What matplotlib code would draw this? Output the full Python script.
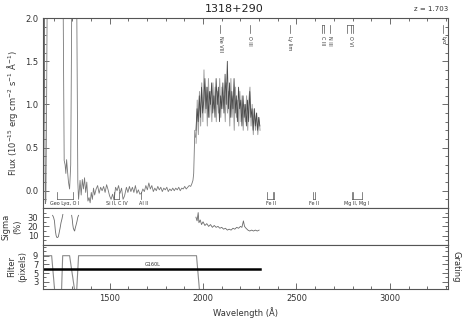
import matplotlib
matplotlib.use("Agg")
import matplotlib.pyplot as plt
import matplotlib.transforms as mtransforms
from matplotlib.ticker import MultipleLocator

# ---- data ----
# flux, blue end (geocoronal region) + continuum below the break
wave_lo = [1145, 1148, 1150, 1153, 1156, 1159, 1163, 1168, 1190, 1206, 1249,
           1257, 1262, 1266, 1270, 1274, 1280, 1286, 1292, 1300, 1322, 1330, 1334,
           1342, 1348, 1354, 1360, 1366, 1372, 1378, 1384, 1390, 1396, 1402, 1408,
           1414, 1420, 1428, 1436, 1444, 1452, 1460, 1468, 1476, 1484, 1492, 1500,
           1508, 1516, 1524, 1532, 1540, 1548, 1556, 1564, 1572, 1580, 1590, 1598,
           1606, 1614, 1622, 1630, 1638, 1646, 1654, 1662, 1670, 1678, 1686, 1694,
           1702, 1710, 1718, 1726, 1734, 1742, 1750, 1758, 1766, 1774, 1782, 1790,
           1798, 1806, 1814, 1822, 1830, 1838, 1846, 1854, 1862, 1870, 1878, 1886,
           1894, 1902, 1910, 1918, 1926, 1934, 1940, 1946, 1950, 1953, 1956, 1960]
flux_lo = [-0.10, 1.20, 3.00, 0.90, -0.15, -0.12, 1.00, 3.00, 3.00, 3.00, 3.00,
           0.35, 0.30, 0.20, 0.36, 0.25, 0.10, 0.02, 0.30, 3.00, 3.00, 0.10, -0.10,
           0.12, -0.05, 0.13, 0.02, 0.15, -0.02, 0.10, -0.12, -0.08, -0.14, -0.02, -0.10,
           0.03, -0.05, 0.02, 0.06, -0.03, 0.04, 0.00, 0.05, -0.02, 0.07, 0.01, -0.06,
           -0.10, -0.04, -0.11, 0.04, 0.00, 0.06, -0.03, 0.03, -0.10, -0.06, 0.04, -0.02,
           0.05, -0.01, 0.04, -0.02, 0.06, -0.03, 0.01, -0.04, -0.03, 0.02, -0.01, 0.06,
           0.01, 0.09, 0.02, 0.06, -0.01, 0.03, 0.00, 0.05, 0.01, 0.04, -0.01, 0.03,
           0.01, 0.04, -0.01, 0.02, 0.00, 0.03, 0.00, 0.03, 0.01, 0.04, 0.00, 0.03,
           0.02, 0.05, 0.02, 0.04, 0.06, 0.05, 0.08, 0.12, 0.20, 0.45, 0.70, 0.62]

# flux above the break: two overplotted spectra (light / dark)
wave_em_a = [1963, 1969, 1975, 1981, 1987, 1993, 1999, 2005, 2011, 2017, 2023, 2029,
             2035, 2041, 2047, 2053, 2059, 2065, 2071, 2077, 2083, 2089, 2095, 2101,
             2107, 2113, 2119, 2125, 2131, 2137, 2143, 2149, 2155, 2161, 2167, 2173,
             2179, 2185, 2191, 2197, 2203, 2209, 2215, 2221, 2227, 2233, 2239, 2245,
             2251, 2257, 2263, 2269, 2275, 2281, 2287, 2293, 2299, 2305]
flux_em_a = [0.55, 1.05, 0.65, 1.15, 0.75, 1.25, 0.80, 1.40, 0.90, 1.20, 0.75, 1.30,
             0.85, 1.15, 0.80, 1.25, 0.95, 1.20, 0.80, 1.15, 0.90, 1.30, 0.85, 1.20,
             0.95, 1.10, 0.80, 1.25, 0.90, 1.15, 0.75, 1.30, 0.85, 1.10, 0.70, 1.20,
             0.85, 1.05, 0.75, 1.15, 0.80, 1.10, 0.70, 1.00, 0.80, 1.10, 0.70, 1.05,
             1.20, 0.75, 1.00, 0.65, 0.95, 0.70, 0.90, 0.65, 0.85, 0.70]
wave_em_b = [1962, 1968, 1974, 1980, 1986, 1992, 1998, 2004, 2010, 2016, 2022, 2028,
             2034, 2040, 2046, 2052, 2058, 2064, 2070, 2076, 2082, 2088, 2094, 2100,
             2106, 2112, 2118, 2124, 2130, 2136, 2142, 2148, 2154, 2160, 2166, 2172,
             2178, 2184, 2190, 2196, 2202, 2208, 2214, 2220, 2226, 2232, 2238, 2244,
             2250, 2256, 2262, 2268, 2274, 2280, 2286, 2292, 2298, 2304]
flux_em_b = [0.70, 0.95, 0.80, 1.10, 0.85, 1.20, 0.90, 1.05, 1.30, 0.95, 1.20, 0.85,
             1.15, 1.00, 1.25, 0.90, 1.10, 0.85, 1.30, 1.00, 1.20, 0.80, 1.10, 0.95,
             1.25, 0.90, 1.35, 1.00, 1.50, 0.95, 1.25, 0.85, 1.15, 0.95, 1.30, 0.90,
             1.10, 0.80, 1.20, 0.95, 1.05, 0.75, 1.10, 0.85, 1.00, 0.75, 1.05, 0.80,
             1.15, 0.85, 0.95, 0.70, 0.95, 0.75, 0.90, 0.70, 0.85, 0.75]

# sigma (%)
sig_wave_1 = [1195, 1200, 1205, 1210, 1214, 1218, 1222, 1226, 1230, 1235, 1240, 1245, 1250]
sig_val_1 = [32, 30, 26, 15, 10, 8, 8, 9, 13, 18, 24, 28, 33]
sig_wave_2 = [1297, 1300, 1303, 1306, 1310, 1313, 1316, 1320, 1325, 1330, 1334]
sig_val_2 = [32, 28, 22, 18, 16, 15, 18, 21, 25, 30, 32]
sig_wave_3 = [1962, 1968, 1974, 1978, 1985, 1992, 2000, 2010, 2020, 2030, 2040, 2050,
              2060, 2070, 2080, 2090, 2100, 2110, 2120, 2130, 2140, 2150, 2160, 2170,
              2180, 2190, 2200, 2208, 2216, 2222, 2230, 2240, 2250, 2260, 2270, 2280,
              2290, 2300]
sig_val_3 = [30, 26, 35, 24, 27, 22, 25, 21, 23, 20, 22, 19, 21, 19, 20, 18, 19, 17,
             18, 16, 17, 16, 18, 17, 19, 18, 20, 19, 26, 20, 18, 16, 15, 16, 15, 16,
             15, 16]

# filter width (pixels)
filt_wave = [1145, 1190, 1206, 1243, 1249, 1286, 1313, 1324, 1334, 1965, 1981, 2305]
filt_val = [9, 9, 1, 1, 9, 9, 1, 1, 9, 9, 1, 1]
grating_range = [1145, 2305]
grating_level = 6
grating_name = "G160L"

# emission line ids (observed wavelength) at top of the flux panel
em_labels = ["Ne VIII", "O III", "Ly lim", "C III", "N III", "O VI", "Ly\u03b1"]
em_waves = [[2092], [2249], [2465], [2636, 2646], [2679], [2772, 2789, 2805], [3286]]

# absorption line ids along the bottom of the flux panel
abs_labels = ["Geo Ly\u03b1, O I", "Si II, C IV", "Al II", "Fe II", "Fe II", "Mg II, Mg I"]
abs_waves = [[1217, 1302], [1526, 1551], [1670], [2344, 2374, 2382],
             [2587, 2600], [2796, 2803, 2853]]
abs_text_x = [1260, 1540, 1680, 2362, 2593, 2824]

XMIN, XMAX = 1144, 3310
frame = "#555555"
light = "#a0a0a0"
dark = "#4a4a4a"

plt.rcParams["font.family"] = "DejaVu Sans"
fig = plt.figure(figsize=(4.68, 3.18), dpi=100)
ax1 = fig.add_axes([0.092, 0.346, 0.865, 0.597])
ax2 = fig.add_axes([0.092, 0.230, 0.865, 0.116])
ax3 = fig.add_axes([0.092, 0.091, 0.865, 0.139])

for ax in (ax1, ax2, ax3):
    ax.set_xlim(XMIN, XMAX)
    for sp in ax.spines.values():
        sp.set_color(frame)
        sp.set_linewidth(0.8)
    ax.xaxis.set_major_locator(MultipleLocator(500))
    ax.xaxis.set_minor_locator(MultipleLocator(100))
    ax.tick_params(which="both", direction="in", colors=frame, labelcolor="#333333",
                   labelsize=6, width=0.6, right=True, top=(ax is ax1),
                   bottom=(ax is ax3))
    ax.tick_params(which="major", length=4)
    ax.tick_params(which="minor", length=2.5)
    if ax is not ax3:
        ax.tick_params(labelbottom=False)

# ---- flux panel ----
ax1.plot(wave_lo, flux_lo, color="#777777", lw=0.6)
ax1.plot(wave_em_a, flux_em_a, color=light, lw=0.7)
ax1.plot(wave_em_b, flux_em_b, color=dark, lw=0.6)
ax1.set_ylim(-0.2, 2.0)
ax1.yaxis.set_major_locator(MultipleLocator(0.5))
ax1.yaxis.set_minor_locator(MultipleLocator(0.1))
ax1.yaxis.set_major_formatter(plt.FormatStrFormatter("%.1f"))
ax1.set_ylabel("Flux (10$^{-15}$ erg cm$^{-2}$ s$^{-1}$ \u00c5$^{-1}$)",
               fontsize=6, color="#333333", labelpad=4)

tr = mtransforms.blended_transform_factory(ax1.transData, ax1.transAxes)
for lab, ws in zip(em_labels, em_waves):
    for w in ws:
        ax1.plot([w, w], [0.963, 0.921], transform=tr, color=frame, lw=0.5, clip_on=False)
    if len(ws) > 1:
        ax1.plot([ws[0], ws[-1]], [0.963, 0.963], transform=tr, color=frame, lw=0.5)
    xm = (ws[0] + ws[-1]) / 2
    ax1.text(xm, 0.905, lab, transform=tr, rotation=270, fontsize=3.5,
             ha="center", va="top", color="#333333")

for lab, ws, xt in zip(abs_labels, abs_waves, abs_text_x):
    for w in ws:
        ax1.plot([w, w], [-0.02, -0.10], color=frame, lw=0.5)
    if len(ws) > 1:
        ax1.plot([ws[0], ws[-1]], [-0.10, -0.10], color=frame, lw=0.5)
    ax1.text(xt, -0.15, lab, fontsize=3.5, ha="center", va="center", color="#333333")

fig.text(0.5, 0.972, "1318+290", ha="center", va="center", fontsize=8, color="#222222")
fig.text(0.957, 0.972, "z = 1.703", ha="right", va="center", fontsize=5, color="#333333")

# ---- sigma panel ----
for sw, sv in ((sig_wave_1, sig_val_1), (sig_wave_2, sig_val_2), (sig_wave_3, sig_val_3)):
    ax2.plot(sw, sv, color="#6a6a6a", lw=0.6)
ax2.set_ylim(0, 40)
ax2.set_yticks([10, 20, 30])
ax2.yaxis.set_minor_locator(MultipleLocator(5))
ax2.set_ylabel("Sigma\n(%)", fontsize=6, color="#333333", labelpad=4, linespacing=1.3)

# ---- filter panel ----
ax3.plot(filt_wave, filt_val, color="#8a8a8a", lw=0.8)
ax3.plot(grating_range, [grating_level, grating_level], color="black", lw=1.8)
ax3.text(1730, grating_level + 0.3, grating_name, fontsize=3.5, ha="center", va="bottom",
         color="#333333")
ax3.set_ylim(1.3, 11.5)
ax3.set_yticks([3, 5, 7, 9])
ax3.yaxis.set_minor_locator(MultipleLocator(1))
ax3.set_ylabel("Filter\n(pixels)", fontsize=6, color="#333333", labelpad=4, linespacing=1.3)
ax3.set_xlabel("Wavelength (\u00c5)", fontsize=6, color="#333333", labelpad=3)
ax3.text(1.01, 0.5, "Grating", transform=ax3.transAxes, rotation=270, fontsize=6,
         ha="left", va="center", color="#333333")

fig.savefig("out.png", dpi=100)
